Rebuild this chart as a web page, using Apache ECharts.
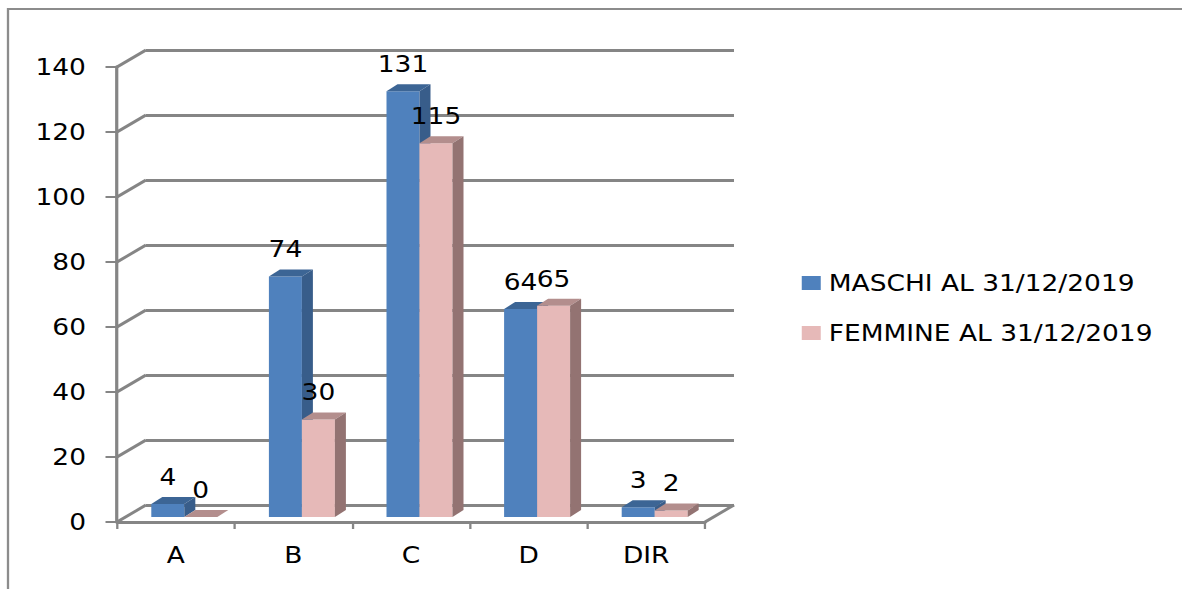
<!DOCTYPE html>
<html>
<head>
<meta charset="utf-8">
<script src="https://cdn.jsdelivr.net/npm/echarts@6/dist/echarts.min.js"></script>
<style>
  html, body { margin: 0; padding: 0; background: #ffffff; overflow: hidden; }
  /* The chart is laid out on a narrower canvas and widened horizontally */
  #main { width: 1028px; height: 589px; transform: scaleX(1.15); transform-origin: 0 0; }
</style>
</head>
<body>
<div id="main"></div>
<script>
// Staff by category at 31/12/2019
const categories = ['A', 'B', 'C', 'D', 'DIR'];
const maschi = [4, 74, 131, 64, 3];
const femmine = [0, 30, 115, 65, 2];
const yTicks = [0, 20, 40, 60, 80, 100, 120, 140];
const seriesNames = ['MASCHI AL 31/12/2019', 'FEMMINE AL 31/12/2019'];

// Horizontal widening applied to the container
const SX = 1.15;
const px = v => v / SX;

// Layout of the pseudo-3D box
const FRONT = { left: 117, top: 67, width: 588, height: 455 };
const DEPTH_X = 29, DEPTH_Y = -17;      // front plane -> back wall
const BAR_SHIFT_X = 8.5, BAR_SHIFT_Y = -5; // bars stand mid-depth
const BAR_W = 33, BAR_DX = 11, BAR_DY = -7;

const GRID_COLOR = '#858585';
const FONT = 'DejaVu Sans';
const FONT_SIZE = 23;

const palette = [
  { front: '#4F81BD', top: '#3C6595', side: '#385D8A' },
  { front: '#E6B9B8', top: '#B38E8D', side: '#937372' }
];

function barRenderer(idx) {
  const c = palette[idx];
  return function (params, api) {
    const cat = api.value(0), val = api.value(1);
    const base = api.coord([cat, 0]);
    const top = api.coord([cat, val]);
    const w = px(BAR_W), dx = px(BAR_DX), dy = BAR_DY;
    const x0 = idx === 0 ? base[0] - w : base[0];
    const yb = base[1], yt = top[1];
    return {
      type: 'group',
      children: [
        { type: 'rect', shape: { x: x0, y: yt, width: w, height: yb - yt }, style: { fill: c.front } },
        { type: 'polygon', shape: { points: [[x0, yt], [x0 + dx, yt + dy], [x0 + w + dx, yt + dy], [x0 + w, yt]] }, style: { fill: c.top } },
        { type: 'polygon', shape: { points: [[x0 + w, yt], [x0 + w + dx, yt + dy], [x0 + w + dx, yb + dy], [x0 + w, yb]] }, style: { fill: c.side } },
        { type: 'text', z2: 10, style: { x: x0 + w / 2, y: yt - 27, text: String(val), fill: '#000', fontSize: FONT_SIZE, fontFamily: FONT, align: 'center', verticalAlign: 'middle' } }
      ]
    };
  };
}

// Diagonal edges joining the front axis to the back wall
function edgeRenderer(params, api) {
  const cs = params.coordSys;
  const v = api.value(1);
  const y = api.coord([0, v])[1];
  const style = { stroke: GRID_COLOR, lineWidth: 2.8 };
  const children = [
    { type: 'line', shape: { x1: cs.x, y1: y, x2: cs.x + px(DEPTH_X), y2: y + DEPTH_Y }, style }
  ];
  if (v === 0) {
    children.push({ type: 'line', shape: { x1: cs.x + cs.width, y1: y, x2: cs.x + cs.width + px(DEPTH_X), y2: y + DEPTH_Y }, style });
  }
  return { type: 'group', children };
}

const chart = echarts.init(document.getElementById('main'), null, { renderer: 'svg' });

const yBase = { type: 'value', min: 0, max: 140, interval: 20 };

chart.setOption({
  animation: false,
  backgroundColor: '#ffffff',
  textStyle: { fontFamily: FONT },
  graphic: [{
    type: 'rect', z: -10,
    shape: { x: px(8), y: 9, width: 1100, height: 700 },
    style: { fill: 'none', stroke: '#8c8c8c', lineWidth: 2 }
  }],
  grid: [
    { left: px(FRONT.left), top: FRONT.top, width: px(FRONT.width), height: FRONT.height },
    { left: px(FRONT.left + DEPTH_X), top: FRONT.top + DEPTH_Y, width: px(FRONT.width), height: FRONT.height },
    { left: px(FRONT.left + BAR_SHIFT_X), top: FRONT.top + BAR_SHIFT_Y, width: px(FRONT.width), height: FRONT.height }
  ],
  xAxis: [
    {
      gridIndex: 0, type: 'category', data: categories,
      axisLine: { show: true, lineStyle: { color: GRID_COLOR, width: 2.8 } },
      axisTick: { show: true, length: 7, interval: 0, lineStyle: { color: GRID_COLOR, width: 2 } },
      axisLabel: { color: '#000', fontSize: FONT_SIZE, fontFamily: FONT, margin: 22, interval: 0 },
      splitLine: { show: false }
    },
    { gridIndex: 1, type: 'category', data: categories, show: false },
    { gridIndex: 2, type: 'category', data: categories, show: false }
  ],
  yAxis: [
    Object.assign({}, yBase, {
      gridIndex: 0,
      axisLine: { show: true, lineStyle: { color: GRID_COLOR, width: 2.8 } },
      axisTick: { show: true, length: 10, lineStyle: { color: GRID_COLOR, width: 2 } },
      axisLabel: { color: '#000', fontSize: FONT_SIZE, fontFamily: FONT, margin: 27 },
      splitLine: { show: false }
    }),
    Object.assign({}, yBase, {
      gridIndex: 1,
      axisLine: { show: false }, axisTick: { show: false }, axisLabel: { show: false },
      splitLine: { show: true, showMinLine: true, showMaxLine: true, lineStyle: { color: GRID_COLOR, width: 2.8 } }
    }),
    Object.assign({}, yBase, { gridIndex: 2, show: false, splitLine: { show: false } })
  ],
  legend: {
    orient: 'vertical',
    left: px(796), top: 266,
    itemWidth: px(19), itemHeight: 14, itemGap: 26,
    textStyle: { color: '#000', fontSize: FONT_SIZE, fontFamily: FONT, lineHeight: 24, padding: [0, 0, 0, 2] },
    data: [
      { name: seriesNames[0], icon: 'rect', itemStyle: { color: palette[0].front } },
      { name: seriesNames[1], icon: 'rect', itemStyle: { color: palette[1].front } }
    ]
  },
  series: [
    {
      type: 'custom', name: 'edges', xAxisIndex: 0, yAxisIndex: 0, silent: true, clip: false,
      renderItem: edgeRenderer,
      data: yTicks.map(v => [0, v])
    },
    {
      type: 'custom', name: seriesNames[0], xAxisIndex: 2, yAxisIndex: 2, clip: false,
      itemStyle: { color: palette[0].front },
      renderItem: barRenderer(0),
      data: maschi.map((v, i) => [i, v])
    },
    {
      type: 'custom', name: seriesNames[1], xAxisIndex: 2, yAxisIndex: 2, clip: false,
      itemStyle: { color: palette[1].front },
      renderItem: barRenderer(1),
      data: femmine.map((v, i) => [i, v])
    }
  ]
});
</script>
</body>
</html>
